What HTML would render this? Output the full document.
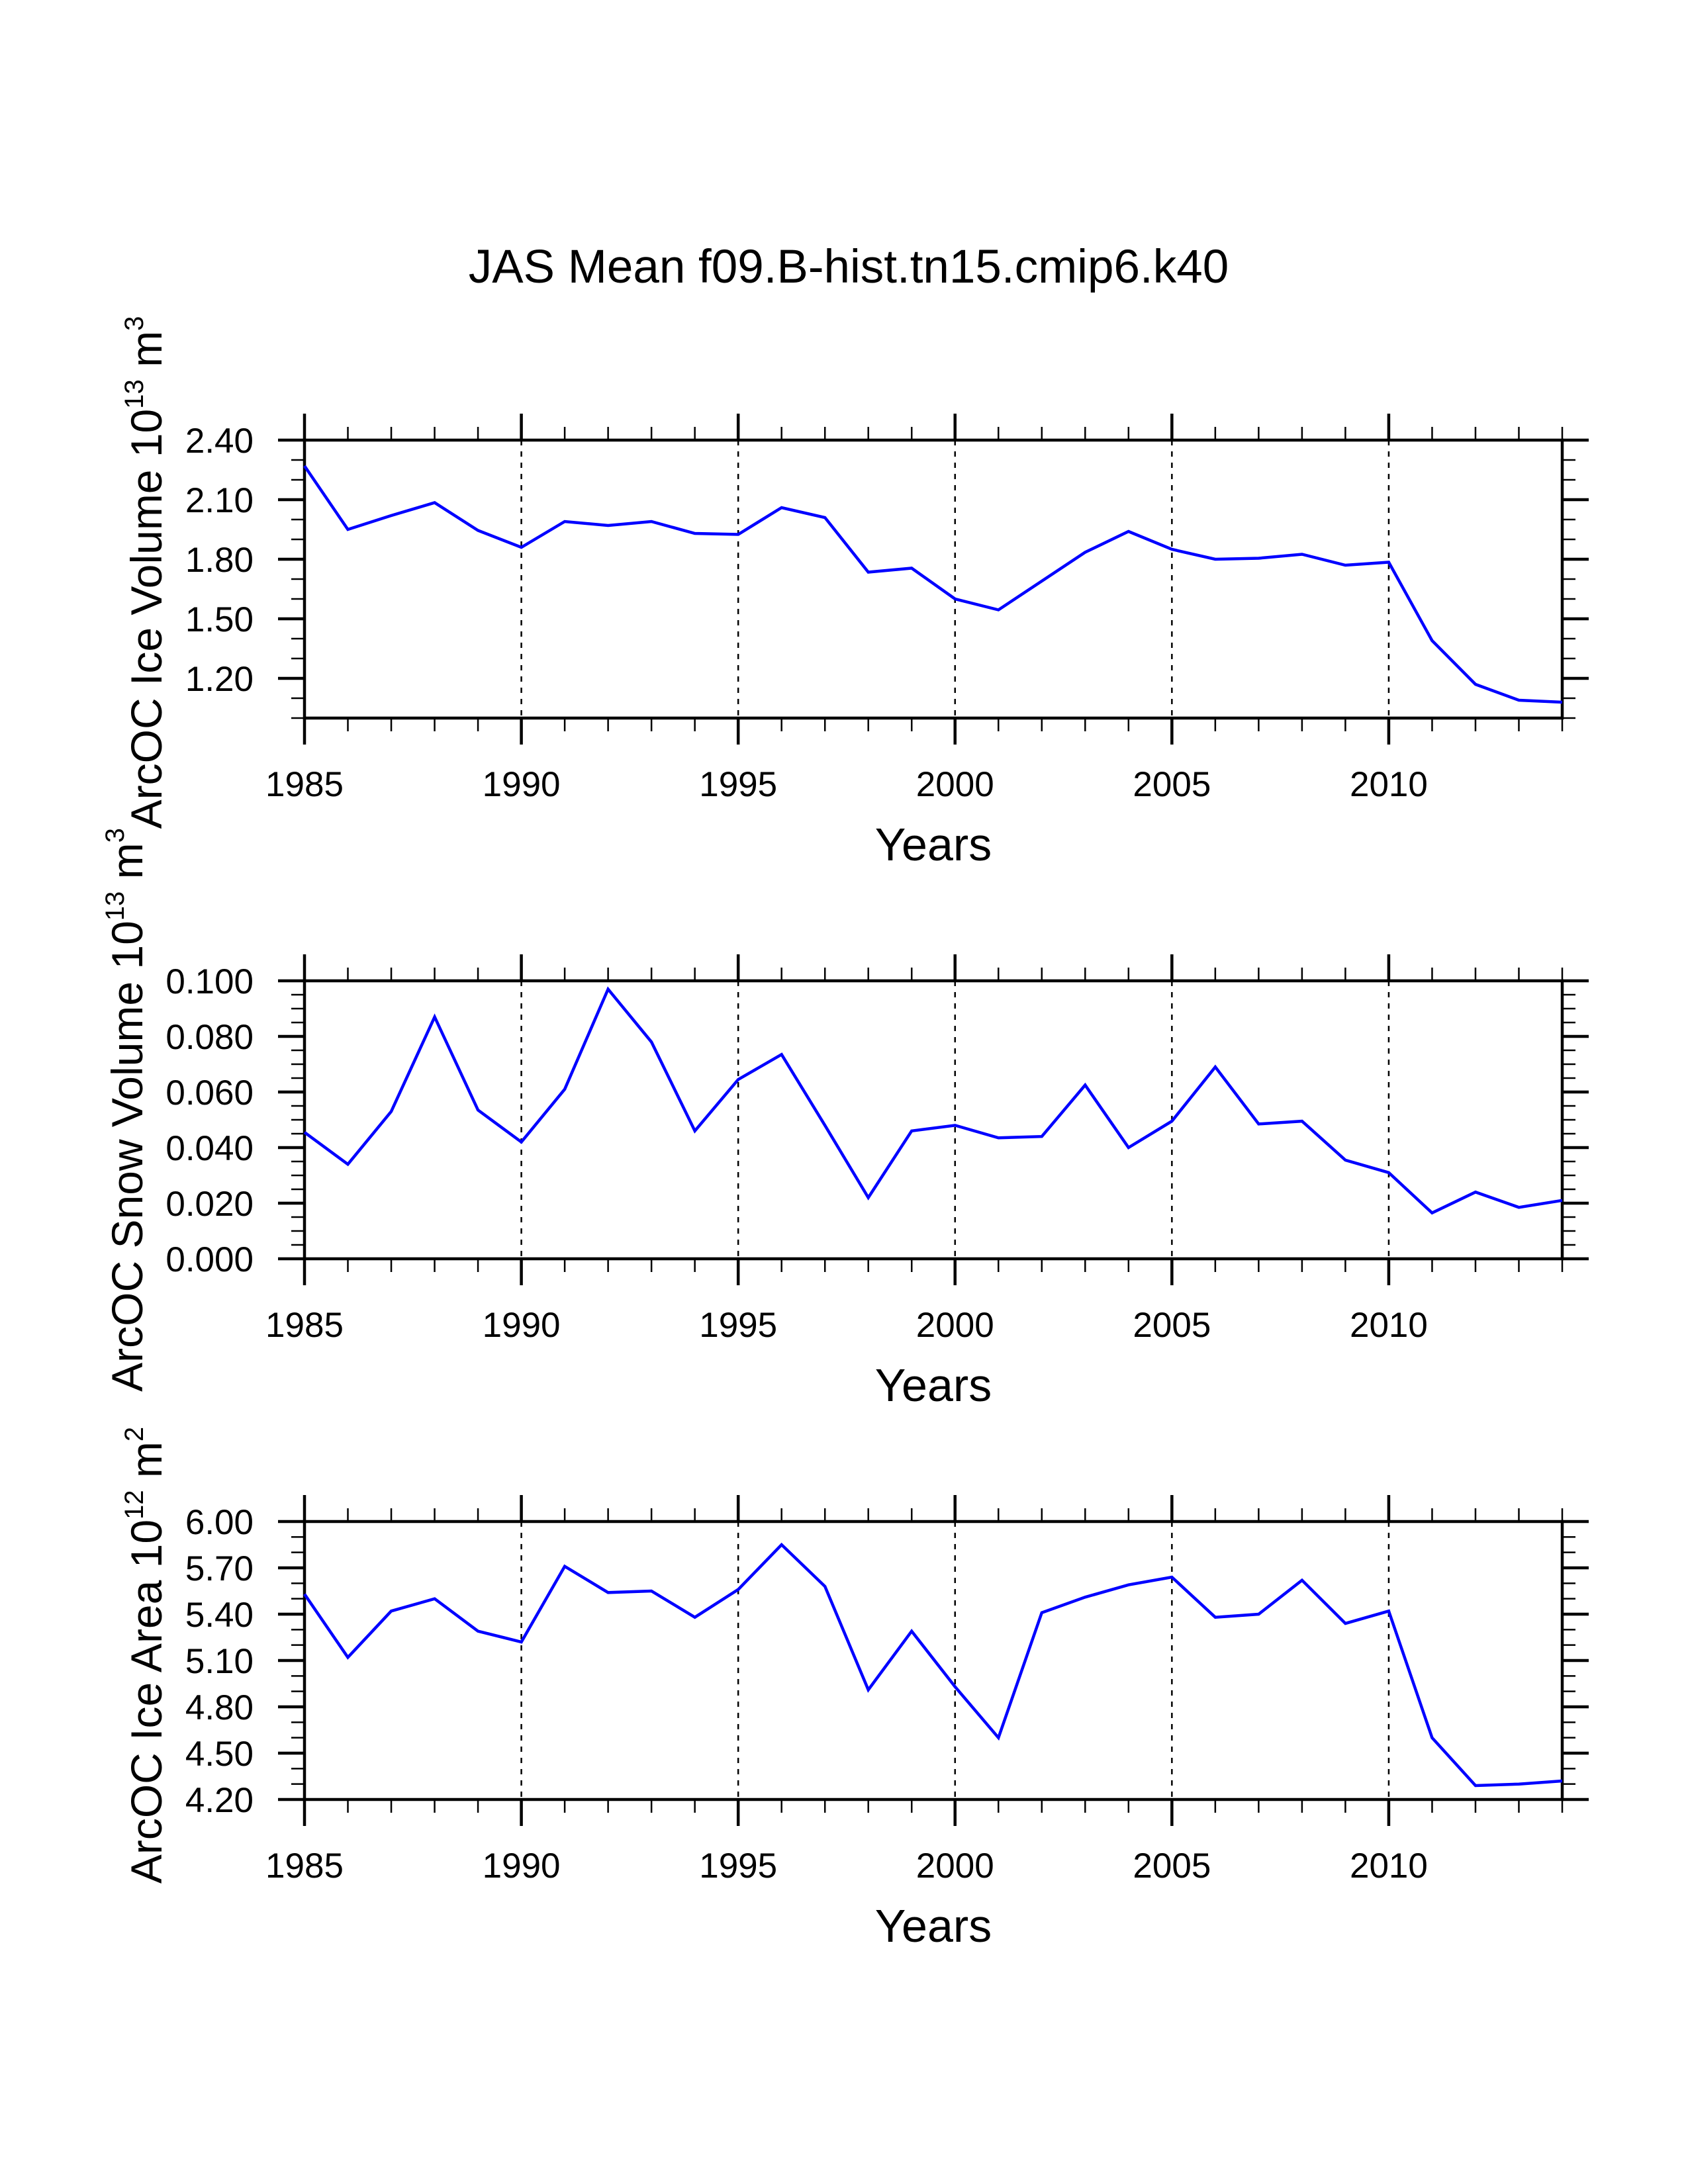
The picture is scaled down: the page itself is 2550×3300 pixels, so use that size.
<!DOCTYPE html>
<html><head><meta charset="utf-8"><style>
html,body{margin:0;padding:0;background:#fff;}
svg{display:block;font-family:"Liberation Sans",Arial,sans-serif;}
</style></head><body>
<svg id="chart" width="2550" height="3300" viewBox="0 0 2550 3300" xmlns="http://www.w3.org/2000/svg">
<rect x="0" y="0" width="2550" height="3300" fill="#fff"/>
<text x="1282" y="427" font-size="71" text-anchor="middle">JAS Mean f09.B-hist.tn15.cmip6.k40</text>
</svg>
<script>
const years = [1985,1986,1987,1988,1989,1990,1991,1992,1993,1994,1995,1996,1997,1998,1999,2000,2001,2002,2003,2004,2005,2006,2007,2008,2009,2010,2011,2012,2013,2014];
const iceVolume = [2.27,1.95,2.02,2.085,1.945,1.86,1.99,1.97,1.99,1.93,1.925,2.06,2.01,1.735,1.755,1.60,1.545,1.69,1.835,1.94,1.85,1.80,1.805,1.825,1.77,1.785,1.39,1.17,1.09,1.08];
const snowVolume = [0.0455,0.034,0.053,0.087,0.0535,0.042,0.061,0.097,0.078,0.046,0.0645,0.0735,0.048,0.022,0.046,0.048,0.0435,0.044,0.0625,0.040,0.0495,0.069,0.0485,0.0495,0.0355,0.031,0.0165,0.024,0.0185,0.021];
const iceArea = [5.53,5.12,5.42,5.50,5.29,5.22,5.71,5.54,5.55,5.38,5.56,5.85,5.58,4.91,5.29,4.93,4.60,5.41,5.51,5.59,5.64,5.38,5.40,5.62,5.34,5.42,4.60,4.29,4.30,4.32];
const xTickLabels = ["1985","1990","1995","2000","2005","2010"];
const volTickLabels = ["1.20","1.50","1.80","2.10","2.40"];
const snowTickLabels = ["0.000","0.020","0.040","0.060","0.080","0.100"];
const areaTickLabels = ["4.20","4.50","4.80","5.10","5.40","5.70","6.00"];

const NS = "http://www.w3.org/2000/svg";
const svg = document.getElementById('chart');
const X0 = 460, X1 = 2360, XMIN = 1985, XMAX = 2014;
function xScale(v){ return X0 + (v - XMIN) / (XMAX - XMIN) * (X1 - X0); }
function mk(tag, attrs, parent){
  const e = document.createElementNS(NS, tag);
  for (const k in attrs) e.setAttribute(k, attrs[k]);
  (parent || svg).appendChild(e);
  return e;
}

const panels = [
  {name:'ice-volume', top:665, vals:iceVolume, ymin:1.0, ymax:2.4, minor:0.1, labels:volTickLabels, exp:'13', unitExp:'3', title:'ArcOC Ice Volume 10', lx:244, dy:-10},
  {name:'snow-volume', top:1482, vals:snowVolume, ymin:0.0, ymax:0.1, minor:0.005, labels:snowTickLabels, exp:'13', unitExp:'3', title:'ArcOC Snow Volume 10', lx:215, dy:-15},
  {name:'ice-area', top:2299, vals:iceArea, ymin:4.2, ymax:6.0, minor:0.1, labels:areaTickLabels, exp:'12', unitExp:'2', title:'ArcOC Ice Area 10', lx:244, dy:-8}
];
const H = 420;

panels.forEach(p => {
  const g = mk('g', {});
  
  
  const bottom = p.top + H;
  const yScale = v => bottom - (v - p.ymin) / (p.ymax - p.ymin) * H;

  for (let yr = 1990; yr <= 2010; yr += 5) {
    const l = mk('line', {x1:xScale(yr), x2:xScale(yr), y1:p.top, y2:bottom, stroke:'#000', 'stroke-width':2.5, 'stroke-dasharray':'8 9'}, g);
    
    
  }
  years.forEach(yr => {
    const major = (yr - 1985) % 5 === 0 && yr <= 2010;
    const len = major ? 40 : 20, w = major ? 4.5 : 2.5;
    const x = xScale(yr);
    const t1 = mk('line', {x1:x, x2:x, y1:bottom, y2:bottom + len, stroke:'#000', 'stroke-width':w}, g);
    
    
    const t2 = mk('line', {x1:x, x2:x, y1:p.top, y2:p.top - len, stroke:'#000', 'stroke-width':w}, g);
    
    
  });
  const nMinor = Math.round((p.ymax - p.ymin) / p.minor);
  const majorEvery = Math.round(((p.ymax - p.ymin) / (p.labels.length - 1)) / p.minor);
  const labelStart = p.ymax - (p.labels.length - 1) * majorEvery * p.minor;
  for (let i = 0; i <= nMinor; i++) {
    const v = p.ymin + i * p.minor;
    const k = Math.round((v - labelStart) / p.minor);
    const major = k >= 0 && k % majorEvery === 0 && Math.abs(v - labelStart - k * p.minor) < 1e-9;
    const len = major ? 40 : 20, w = major ? 4.5 : 2.5;
    const y = yScale(v);
    const a = mk('line', {x1:X0, x2:X0 - len, y1:y, y2:y, stroke:'#000', 'stroke-width':w}, g);
    
    
    const b = mk('line', {x1:X1, x2:X1 + len, y1:y, y2:y, stroke:'#000', 'stroke-width':w}, g);
    
    
  }
  p.labels.forEach((lab, i) => {
    const v = labelStart + i * majorEvery * p.minor;
    const t = mk('text', {x:383, y:yScale(v) + 19, 'font-size':53, 'text-anchor':'end'}, g);
    t.textContent = lab;
    
    
  });
  xTickLabels.forEach(lab => {
    const t = mk('text', {x:xScale(+lab), y:bottom + 118, 'font-size':53, 'text-anchor':'middle'}, g);
    t.textContent = lab;
    
    
  });
  const fr = mk('rect', {x:X0, y:p.top, width:X1 - X0, height:H, fill:'none', stroke:'#000', 'stroke-width':4.5}, g);
  
  
  const pts = years.map((yr, i) => xScale(yr).toFixed(1) + ',' + yScale(p.vals[i]).toFixed(1)).join(' ');
  const pl = mk('polyline', {points:pts, fill:'none', stroke:'#0000ff', 'stroke-width':4.5, 'stroke-linejoin':'miter'}, g);
  
  
  const xt = mk('text', {x:1410, y:bottom + 215, 'font-size':70, 'text-anchor':'middle'}, g);
  xt.textContent = 'Years';
  
  
  const cy = p.top + H / 2 + p.dy;
  const yt = mk('text', {x:0, y:0, 'font-size':66, 'text-anchor':'middle', transform:'translate(' + p.lx + ',' + cy + ') rotate(-90)'}, g);
  
  
  const s1 = mk('tspan', {}, yt); s1.textContent = p.title;
  const s2 = mk('tspan', {'font-size':40, dy:-28}, yt); s2.textContent = p.exp;
  const s3 = mk('tspan', {dy:28}, yt); s3.textContent = ' m';
  const s4 = mk('tspan', {'font-size':40, dy:-28}, yt); s4.textContent = p.unitExp;
});
</script>
</body></html>
